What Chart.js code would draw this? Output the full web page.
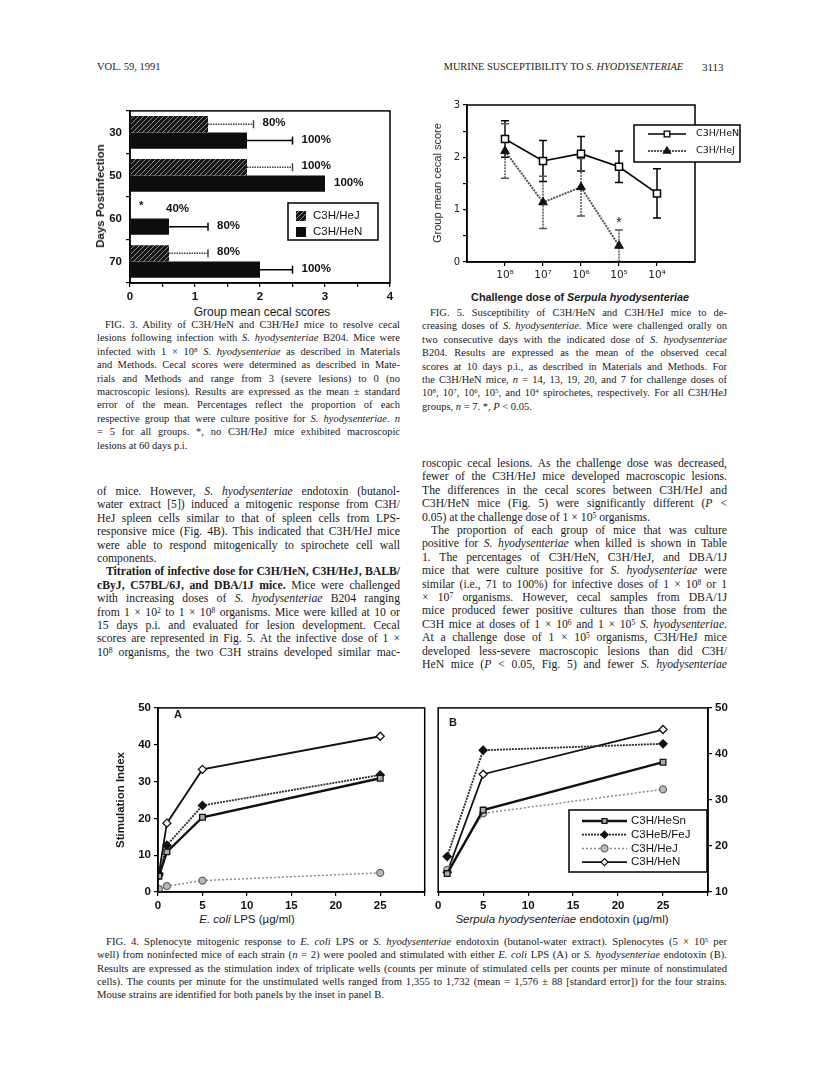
<!DOCTYPE html>
<html>
<head>
<meta charset="utf-8">
<script src="https://cdn.jsdelivr.net/npm/chart.js@4.4.0/dist/chart.umd.min.js"></script>
<style>
  body { margin: 0; width: 816px; height: 1084px; position: relative; overflow: hidden; background: #fff; color: #1a1a1a; font-family: "Liberation Serif", serif; }
  .abs { position: absolute; }
  .col { position: absolute; line-height: 13.4px; }
  .col div { text-align: justify; text-align-last: justify; }
  .col div.l { text-align-last: left; }
  .cap { font-size: 10.5px; }
  .body { font-size: 11.7px; }
  sup { font-size: 65%; line-height: 0; vertical-align: 0.45em; }
  .sans { font-family: "Liberation Sans", Arial, sans-serif; white-space: nowrap; }
  .rot { transform: translate(-50%, -50%) rotate(-90deg); }
  .ctr { transform: translate(-50%, -50%); }
  canvas { position: absolute; }
</style>
</head>
<body>

<!-- running head -->
<div class="abs" style="left:97px;top:61px;font-size:10.5px;">VOL. 59, 1991</div>
<div class="abs" style="right:133px;top:61px;font-size:10.3px;white-space:nowrap;">MURINE SUSCEPTIBILITY TO <i>S. HYODYSENTERIAE</i></div>
<div class="abs" style="left:702px;top:61px;font-size:11px;">3113</div>

<!-- charts -->
<canvas id="fig3" width="300" height="205" style="left:100px;top:100px;"></canvas>
<canvas id="fig5" width="315" height="190" style="left:440px;top:95px;"></canvas>
<canvas id="fig4a" width="305" height="215" style="left:125px;top:698px;"></canvas>
<canvas id="fig4b" width="310" height="215" style="left:432px;top:698px;"></canvas>

<!-- axis titles -->
<div class="abs sans rot" style="left:100px;top:196px;font-size:11.5px;font-weight:bold;">Days Postinfection</div>
<div class="abs sans ctr" style="left:262px;top:312px;font-size:12px;">Group mean cecal scores</div>
<div class="abs sans rot" style="left:437px;top:183px;font-size:11px;">Group mean cecal score</div>
<div class="abs sans ctr" style="left:580px;top:297px;font-size:10.8px;font-weight:bold;">Challenge dose of <i>Serpula hyodysenteriae</i></div>
<div class="abs sans rot" style="left:120px;top:800px;font-size:11.5px;font-weight:bold;">Stimulation Index</div>
<div class="abs sans ctr" style="left:247px;top:919px;font-size:11.5px;"><i>E. coli</i> LPS (µg/ml)</div>
<div class="abs sans ctr" style="left:562px;top:919px;font-size:11.5px;"><i>Serpula hyodysenteriae</i> endotoxin (µg/ml)</div>
<div class="abs sans" style="left:174px;top:708px;font-size:11px;font-weight:bold;">A</div>
<div class="abs sans" style="left:449px;top:716px;font-size:11px;font-weight:bold;">B</div>

<!-- FIG. 3 caption -->
<div class="col cap" style="left:97px;top:318px;width:303px;">
  <div style="padding-left:8px;">FIG. 3. Ability of C3H/HeN and C3H/HeJ mice to resolve cecal</div>
  <div>lesions following infection with <i>S. hyodysenteriae</i> B204. Mice were</div>
  <div>infected with 1 × 10<sup>8</sup> <i>S. hyodysenteriae</i> as described in Materials</div>
  <div>and Methods. Cecal scores were determined as described in Mate-</div>
  <div>rials and Methods and range from 3 (severe lesions) to 0 (no</div>
  <div>macroscopic lesions). Results are expressed as the mean ± standard</div>
  <div>error of the mean. Percentages reflect the proportion of each</div>
  <div>respective group that were culture positive for <i>S. hyodysenteriae</i>. <i>n</i></div>
  <div>= 5 for all groups. *, no C3H/HeJ mice exhibited macroscopic</div>
  <div class="l">lesions at 60 days p.i.</div>
</div>

<!-- FIG. 5 caption -->
<div class="col cap" style="left:422px;top:306px;width:305px;">
  <div style="padding-left:8px;">FIG. 5. Susceptibility of C3H/HeN and C3H/HeJ mice to de-</div>
  <div>creasing doses of <i>S. hyodysenteriae</i>. Mice were challenged orally on</div>
  <div>two consecutive days with the indicated dose of <i>S. hyodysenteriae</i></div>
  <div>B204. Results are expressed as the mean of the observed cecal</div>
  <div>scores at 10 days p.i., as described in Materials and Methods. For</div>
  <div>the C3H/HeN mice, <i>n</i> = 14, 13, 19, 20, and 7 for challenge doses of</div>
  <div>10<sup>8</sup>, 10<sup>7</sup>, 10<sup>6</sup>, 10<sup>5</sup>, and 10<sup>4</sup> spirochetes, respectively. For all C3H/HeJ</div>
  <div class="l">groups, <i>n</i> = 7. *, <i>P</i> &lt; 0.05.</div>
</div>

<!-- left body column -->
<div class="col body" style="left:97px;top:485px;width:303px;">
  <div>of mice. However, <i>S. hyodysenteriae</i> endotoxin (butanol-</div>
  <div>water extract [5]) induced a mitogenic response from C3H/</div>
  <div>HeJ spleen cells similar to that of spleen cells from LPS-</div>
  <div>responsive mice (Fig. 4B). This indicated that C3H/HeJ mice</div>
  <div>were able to respond mitogenically to spirochete cell wall</div>
  <div class="l">components.</div>
  <div style="padding-left:9px;"><b>Titration of infective dose for C3H/HeN, C3H/HeJ, BALB/</b></div>
  <div><b>cByJ, C57BL/6J, and DBA/1J mice.</b> Mice were challenged</div>
  <div>with increasing doses of <i>S. hyodysenteriae</i> B204 ranging</div>
  <div>from 1 × 10<sup>2</sup> to 1 × 10<sup>8</sup> organisms. Mice were killed at 10 or</div>
  <div>15 days p.i. and evaluated for lesion development. Cecal</div>
  <div>scores are represented in Fig. 5. At the infective dose of 1 ×</div>
  <div>10<sup>8</sup> organisms, the two C3H strains developed similar mac-</div>
</div>

<!-- right body column -->
<div class="col body" style="left:422px;top:457px;width:305px;">
  <div>roscopic cecal lesions. As the challenge dose was decreased,</div>
  <div>fewer of the C3H/HeJ mice developed macroscopic lesions.</div>
  <div>The differences in the cecal scores between C3H/HeJ and</div>
  <div>C3H/HeN mice (Fig. 5) were significantly different (<i>P</i> &lt;</div>
  <div class="l">0.05) at the challenge dose of 1 × 10<sup>5</sup> organisms.</div>
  <div style="padding-left:9px;">The proportion of each group of mice that was culture</div>
  <div>positive for <i>S. hyodysenteriae</i> when killed is shown in Table</div>
  <div>1. The percentages of C3H/HeN, C3H/HeJ, and DBA/1J</div>
  <div>mice that were culture positive for <i>S. hyodysenteriae</i> were</div>
  <div>similar (i.e., 71 to 100%) for infective doses of 1 × 10<sup>8</sup> or 1</div>
  <div>× 10<sup>7</sup> organisms. However, cecal samples from DBA/1J</div>
  <div>mice produced fewer positive cultures than those from the</div>
  <div>C3H mice at doses of 1 × 10<sup>6</sup> and 1 × 10<sup>5</sup> <i>S. hyodysenteriae</i>.</div>
  <div>At a challenge dose of 1 × 10<sup>5</sup> organisms, C3H/HeJ mice</div>
  <div>developed less-severe macroscopic lesions than did C3H/</div>
  <div>HeN mice (<i>P</i> &lt; 0.05, Fig. 5) and fewer <i>S. hyodysenteriae</i></div>
</div>

<!-- FIG. 4 caption -->
<div class="col cap" style="left:97px;top:935px;width:630px;line-height:13.3px;font-size:10.7px;">
  <div style="padding-left:9px;">FIG. 4. Splenocyte mitogenic response to <i>E. coli</i> LPS or <i>S. hyodysenteriae</i> endotoxin (butanol-water extract). Splenocytes (5 × 10<sup>5</sup> per</div>
  <div>well) from noninfected mice of each strain (<i>n</i> = 2) were pooled and stimulated with either <i>E. coli</i> LPS (A) or <i>S. hyodysenteriae</i> endotoxin (B).</div>
  <div>Results are expressed as the stimulation index of triplicate wells (counts per minute of stimulated cells per counts per minute of nonstimulated</div>
  <div>cells). The counts per minute for the unstimulated wells ranged from 1,355 to 1,732 (mean = 1,576 ± 88 [standard error]) for the four strains.</div>
  <div class="l">Mouse strains are identified for both panels by the inset in panel B.</div>
</div>

<script>
// Fig. 3 - cecal scores by days postinfection
const fig3Days = ['30', '50', '60', '70'];
const fig3HeJ = [1.2, 1.8, 0, 0.6];
const fig3HeN = [1.8, 3.0, 0.6, 2.0];
const fig3HeJErr = [0.7, 0.7, 0, 0.6];
const fig3HeNErr = [0.7, 0, 0.6, 0.5];
const fig3HeJPct = ['80%', '100%', '40%', '80%'];
const fig3HeNPct = ['100%', '100%', '80%', '100%'];
const fig3HeJMark = ['', '', '*', ''];

// Fig. 5 - cecal score by challenge dose
const fig5Doses = ['10⁸', '10⁷', '10⁶', '10⁵', '10⁴'];
const fig5HeN = [2.35, 1.93, 2.07, 1.82, 1.31];
const fig5HeNErr = [0.35, 0.39, 0.33, 0.30, 0.47];
const fig5HeJ = [2.12, 1.14, 1.43, 0.31, null];
const fig5HeJErr = [0.52, 0.5, 0.55, 0.3, null];
const fig5HeJMark = ['', '', '', '*', ''];

// Fig. 4 - stimulation index
const fig4Strains = ['C3H/HeSn', 'C3HeB/FeJ', 'C3H/HeJ', 'C3H/HeN'];
const fig4ADose = [0.1, 1, 5, 25];
const fig4AHeSn = [4.3, 10.9, 20.3, 30.9];
const fig4AFeJ = [4.6, 12.7, 23.5, 31.8];
const fig4AHeJ = [0.8, 1.6, 3.1, 5.2];
const fig4AHeN = [5.0, 18.7, 33.3, 42.3];
const fig4BDose = [1, 5, 25];
const fig4BHeSn = [14.0, 27.8, 38.2];
const fig4BFeJ = [17.7, 40.8, 42.2];
const fig4BHeJ = [14.8, 27.1, 32.3];
const fig4BHeN = [14.3, 35.6, 45.3];

Chart.defaults.font.family = '"Liberation Sans", Arial, sans-serif';
Chart.defaults.color = '#111';
Chart.defaults.animation = false;

const SANS = '"Liberation Sans", Arial, sans-serif';

// box around the plot area
const frame = {
  id: 'frame',
  afterDraw(chart) {
    const a = chart.chartArea, c = chart.ctx;
    c.save();
    c.strokeStyle = '#000';
    c.lineWidth = 1.5;
    c.strokeRect(a.left, a.top, a.right - a.left, a.bottom - a.top);
    c.restore();
  }
};

function hatch() {
  const t = document.createElement('canvas');
  t.width = t.height = 5;
  const g = t.getContext('2d');
  g.fillStyle = '#151515';
  g.fillRect(0, 0, 5, 5);
  g.strokeStyle = '#8c8c8c';
  g.lineWidth = 1;
  g.beginPath();
  g.moveTo(-1, 6); g.lineTo(6, -1);
  g.stroke();
  return g.createPattern(t, 'repeat');
}
const hatchFill = hatch();

function axisStyle(extra) {
  return Object.assign({
    grid: { drawOnChartArea: false, color: '#000', tickLength: 4, lineWidth: 1.2 },
    border: { color: '#000', width: 1.5 },
    ticks: { color: '#111', font: { size: 11, weight: 'bold' } }
  }, extra);
}

// ---------- Fig. 3 ----------
const barErrors = {
  id: 'barErrors',
  afterDatasetsDraw(chart) {
    const c = chart.ctx, x = chart.scales.x;
    chart.data.datasets.forEach((ds, i) => {
      chart.getDatasetMeta(i).data.forEach((bar, j) => {
        const v = ds.data[j], e = ds.err[j];
        const x0 = x.getPixelForValue(v), x1 = x.getPixelForValue(v + e);
        c.save();
        if (e > 0) {
          c.strokeStyle = ds.errColor;
          c.lineWidth = 1.5;
          c.setLineDash(ds.errDash);
          c.beginPath();
          c.moveTo(x0, bar.y); c.lineTo(x1, bar.y);
          c.stroke();
          c.setLineDash([]);
          c.beginPath();
          c.moveTo(x1, bar.y - 4); c.lineTo(x1, bar.y + 4);
          c.stroke();
        }
        c.fillStyle = '#111';
        c.font = 'bold 11.5px ' + SANS;
        c.textBaseline = 'middle';
        let lx = x1 + 9;
        if (ds.marks && ds.marks[j]) {
          c.fillText(ds.marks[j], x0 + 9, bar.y - 4);
          lx = x0 + 36;
        }
        c.fillText(ds.pct[j], lx, bar.y - 1);
        c.restore();
      });
    });
  }
};

const fig3Legend = {
  id: 'fig3Legend',
  afterDraw(chart) {
    const c = chart.ctx;
    c.save();
    c.fillStyle = '#fff';
    c.fillRect(188, 103, 90, 37);
    c.strokeStyle = '#000';
    c.lineWidth = 1.5;
    c.strokeRect(188, 103, 90, 37);
    chart.data.datasets.forEach((ds, i) => {
      const y = 111 + i * 16;
      c.fillStyle = ds.backgroundColor;
      c.fillRect(196, y, 10, 10);
      c.fillStyle = '#111';
      c.font = '11.5px ' + SANS;
      c.textBaseline = 'middle';
      c.fillText(ds.label, 213, y + 5);
    });
    c.restore();
  }
};

new Chart(document.getElementById('fig3'), {
  type: 'bar',
  data: {
    labels: fig3Days,
    datasets: [
      { label: 'C3H/HeJ', data: fig3HeJ, err: fig3HeJErr, pct: fig3HeJPct, marks: fig3HeJMark,
        backgroundColor: hatchFill, errColor: '#444', errDash: [1.5, 1] },
      { label: 'C3H/HeN', data: fig3HeN, err: fig3HeNErr, pct: fig3HeNPct,
        backgroundColor: '#0d0d0d', errColor: '#000', errDash: [] }
    ]
  },
  options: {
    indexAxis: 'y',
    responsive: false,
    layout: { padding: { top: 5, right: 10, left: 0, bottom: 0 } },
    datasets: { bar: { categoryPercentage: 0.76, barPercentage: 1 } },
    plugins: { legend: { display: false }, tooltip: { enabled: false } },
    scales: {
      x: axisStyle({
        min: 0, max: 4,
        ticks: { stepSize: 0.5, color: '#111', font: { size: 11.5, weight: 'bold' },
                 callback: v => Number.isInteger(v) ? v : '' },
        afterFit: s => { s.height = 22; }
      }),
      y: axisStyle({
        ticks: { color: '#111', font: { size: 11.5, weight: 'bold' }, padding: 4 },
        afterFit: s => { s.width = 30; }
      })
    }
  },
  plugins: [frame, barErrors, fig3Legend]
});

// ---------- Fig. 5 ----------
const pointErrors = {
  id: 'pointErrors',
  beforeDatasetsDraw(chart) {
    const c = chart.ctx, y = chart.scales.y;
    chart.data.datasets.forEach((ds, i) => {
      chart.getDatasetMeta(i).data.forEach((pt, j) => {
        const v = ds.values[j], e = ds.err[j];
        if (v == null || e == null) return;
        const lo = y.getPixelForValue(Math.max(0, v - e)), hi = y.getPixelForValue(v + e);
        c.save();
        c.strokeStyle = ds.borderColor;
        c.lineWidth = 1.5;
        c.setLineDash(ds.borderDash || []);
        c.beginPath();
        c.moveTo(pt.x, lo); c.lineTo(pt.x, hi);
        c.stroke();
        c.setLineDash([]);
        c.beginPath();
        c.moveTo(pt.x - 4, hi); c.lineTo(pt.x + 4, hi);
        c.moveTo(pt.x - 4, lo); c.lineTo(pt.x + 4, lo);
        c.stroke();
        if (ds.marks && ds.marks[j]) {
          c.fillStyle = '#111';
          c.font = '14px ' + SANS;
          c.textAlign = 'center';
          c.textBaseline = 'middle';
          c.fillText(ds.marks[j], pt.x, hi - 7);
        }
        c.restore();
      });
    });
  }
};

function drawLegendEntry(c, ds, x0, x1, y, radius) {
  c.save();
  c.strokeStyle = ds.borderColor;
  c.lineWidth = ds.borderWidth;
  c.setLineDash(ds.borderDash || []);
  c.beginPath();
  c.moveTo(x0, y); c.lineTo(x1, y);
  c.stroke();
  c.setLineDash([]);
  c.fillStyle = ds.pointBackgroundColor;
  c.strokeStyle = ds.pointBorderColor || ds.borderColor;
  c.lineWidth = 1.3;
  Chart.helpers.drawPoint(c, { pointStyle: ds.pointStyle, radius: radius || ds.pointRadius, borderWidth: 1.3, rotation: 0 }, (x0 + x1) / 2, y);
  c.restore();
}

const fig5Legend = {
  id: 'fig5Legend',
  afterDraw(chart) {
    const c = chart.ctx;
    c.save();
    c.fillStyle = '#fff';
    c.fillRect(194, 30, 106, 37);
    c.strokeStyle = '#000';
    c.lineWidth = 1.5;
    c.strokeRect(194, 30, 106, 37);
    chart.data.datasets.forEach((ds, i) => {
      const y = 39 + i * 17;
      drawLegendEntry(c, ds, 208, 246, y, 4);
      c.fillStyle = '#111';
      c.font = '9.5px "DejaVu Sans", sans-serif';
      c.textBaseline = 'middle';
      c.fillText(ds.label, 256, y);
    });
    c.restore();
  }
};

new Chart(document.getElementById('fig5'), {
  type: 'scatter',
  data: {
    datasets: [
      { label: 'C3H/HeN', values: fig5HeN, err: fig5HeNErr,
        data: fig5HeN.map((v, i) => ({ x: i + 1, y: v })),
        showLine: true, borderColor: '#000', borderWidth: 1.6,
        pointStyle: 'rect', pointRadius: 5, pointBackgroundColor: '#fff', pointBorderColor: '#000', pointBorderWidth: 1.5 },
      { label: 'C3H/HeJ', values: fig5HeJ, err: fig5HeJErr, marks: fig5HeJMark,
        data: fig5HeJ.map((v, i) => ({ x: i + 1, y: v })).filter(p => p.y != null),
        showLine: true, borderColor: '#555', borderWidth: 2, borderDash: [2, 1],
        pointStyle: 'triangle', pointRadius: 5, pointBackgroundColor: '#111', pointBorderColor: '#111', pointBorderWidth: 1 }
    ]
  },
  options: {
    responsive: false,
    layout: { padding: { top: 10, right: 60, left: 0, bottom: 0 } },
    plugins: { legend: { display: false }, tooltip: { enabled: false } },
    scales: {
      x: axisStyle({
        type: 'linear', min: 0, max: 6,
        afterBuildTicks: s => { s.ticks = fig5Doses.map((d, i) => ({ value: i + 1 })); },
        ticks: { color: '#222', font: { size: 10.5, family: '"DejaVu Sans", sans-serif' },
                 callback: v => fig5Doses[v - 1] },
        afterFit: s => { s.height = 23; }
      }),
      y: axisStyle({
        min: 0, max: 3,
        ticks: { stepSize: 0.5, color: '#222', font: { size: 10, family: '"DejaVu Sans", sans-serif' },
                 callback: v => Number.isInteger(v) ? v : '' },
        afterFit: s => { s.width = 27; }
      })
    }
  },
  plugins: [frame, pointErrors, fig5Legend]
});

// ---------- Fig. 4 ----------
const strainStyle = [
  { borderColor: '#111', borderWidth: 2.4, pointStyle: 'rect', pointRadius: 4, pointBackgroundColor: '#aaa', pointBorderColor: '#111' },
  { borderColor: '#2a2a2a', borderWidth: 1.8, borderDash: [2, 1], pointStyle: 'rectRot', pointRadius: 4, pointBackgroundColor: '#111', pointBorderColor: '#111' },
  { borderColor: '#8a8a8a', borderWidth: 1.5, borderDash: [2, 2], pointStyle: 'circle', pointRadius: 3.5, pointBackgroundColor: '#bbb', pointBorderColor: '#666' },
  { borderColor: '#111', borderWidth: 1.8, pointStyle: 'rectRot', pointRadius: 4, pointBackgroundColor: '#fff', pointBorderColor: '#111' }
];

function strainSets(doses, series) {
  return series.map((vals, k) => Object.assign({
    label: fig4Strains[k],
    data: vals.map((v, i) => ({ x: doses[i], y: v })),
    showLine: true,
    pointBorderWidth: 1.3
  }, strainStyle[k]));
}

const fig4Legend = {
  id: 'fig4Legend',
  afterDraw(chart) {
    const c = chart.ctx;
    c.save();
    c.fillStyle = '#fff';
    c.fillRect(137, 112, 138, 62);
    c.strokeStyle = '#000';
    c.lineWidth = 1.5;
    c.strokeRect(137, 112, 138, 62);
    chart.data.datasets.forEach((ds, i) => {
      const y = 123 + i * 13.7;
      drawLegendEntry(c, ds, 150, 195, y, 3.5);
      c.fillStyle = '#111';
      c.font = '11.5px ' + SANS;
      c.textBaseline = 'middle';
      c.fillText(ds.label, 199, y);
    });
    c.restore();
  }
};

function fig4Options(yPos, yMin, yWidth, pad) {
  return {
    responsive: false,
    layout: { padding: pad },
    plugins: { legend: { display: false }, tooltip: { enabled: false } },
    scales: {
      x: axisStyle({
        type: 'linear', min: 0, max: 30,
        ticks: { stepSize: 5, color: '#111', font: { size: 11.5, weight: 'bold' },
                 callback: v => v === 30 ? '' : v },
        afterFit: s => { s.height = 21; }
      }),
      y: axisStyle({
        position: yPos, min: yMin, max: 50,
        ticks: { stepSize: 10, color: '#111', font: { size: 11.5, weight: 'bold' } },
        afterFit: s => { s.width = yWidth; }
      })
    }
  };
}

new Chart(document.getElementById('fig4a'), {
  type: 'scatter',
  data: { datasets: strainSets(fig4ADose, [fig4AHeSn, fig4AFeJ, fig4AHeJ, fig4AHeN]) },
  options: fig4Options('left', 0, 33, { top: 7, right: 3, left: 0, bottom: 0 }),
  plugins: [frame]
});

new Chart(document.getElementById('fig4b'), {
  type: 'scatter',
  data: { datasets: strainSets(fig4BDose, [fig4BHeSn, fig4BFeJ, fig4BHeJ, fig4BHeN]) },
  options: fig4Options('right', 10, 34, { top: 9, right: 0, left: 3, bottom: 0 }),
  plugins: [frame, fig4Legend]
});
</script>
</body>
</html>
